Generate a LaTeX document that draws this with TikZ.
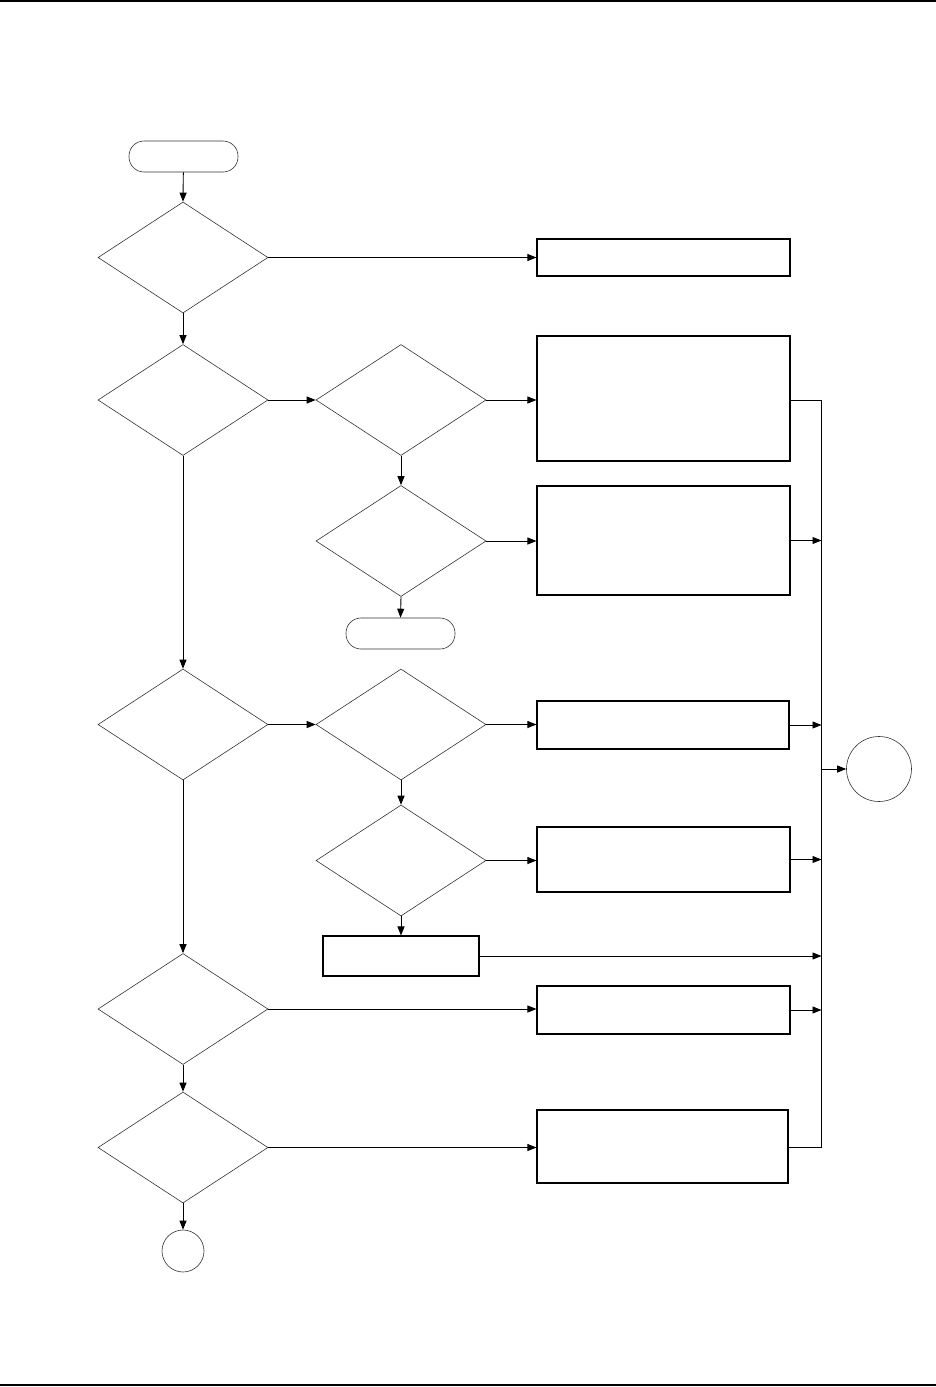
\documentclass[tikz,border=0pt]{standalone}
\usepackage{tikz}
\usetikzlibrary{shapes.geometric}
\usetikzlibrary{arrows.meta}
\tikzstyle{decide}=[diamond,draw=black!80,line width=0.6pt,minimum width=170pt,minimum height=111pt,inner sep=0pt]
\tikzstyle{stepbox}=[rectangle,draw=black,line width=1.1pt,inner sep=0pt]
\tikzstyle{termin}=[rectangle,rounded corners=15pt,draw=black!80,line width=0.6pt,minimum width=109pt,minimum height=31pt,inner sep=0pt]
\tikzstyle{connector}=[circle,draw=black!80,line width=0.6pt,inner sep=0pt]
\tikzstyle{flow}=[line width=0.9pt,-{Triangle[length=9pt,width=7pt]}]
\newcommand{\sBox}[5]{%
    \node [stepbox, minimum width=#4pt, minimum height=#5pt] (#1) at (#2,#3) {};
}

\begin{document}
\begin{tikzpicture}[x=1pt, y=-1pt]
    \useasboundingbox (0,0) rectangle (936,1387);

    %rules
    \draw [line width=1.4pt] (0,1) -- (936,1);
    \draw [line width=1.4pt] (0,1385) -- (936,1385);

    %left column
    \node [termin] (start) at (183.5,156.5) {};
    \node [decide] (d1) at (183,257.5) {};
    \node [decide] (d2) at (183,400) {};
    \node [decide] (d5) at (183,724.5) {};
    \node [decide] (d8) at (183,1009) {};
    \node [decide] (d9) at (183,1147.5) {};
    \node [connector, minimum size=42pt] (c1) at (183,1251) {};

    %middle column
    \node [decide] (d3) at (401,400) {};
    \node [decide] (d4) at (401,541) {};
    \node [termin] (stop) at (400.5,633.5) {};
    \node [decide] (d6) at (401,724.5) {};
    \node [decide] (d7) at (401,860.5) {};
    \sBox{b6}{401}{956}{156}{40}

    %right column
    \sBox{b1}{663.5}{257.5}{253}{37}
    \sBox{b2}{663.5}{398.5}{253}{125}
    \sBox{b3}{663.5}{540.5}{253}{109}
    \sBox{b4}{663}{725}{252}{48}
    \sBox{b5}{663.5}{859.5}{253}{65}
    \sBox{b7}{663.5}{1010}{253}{48}
    \sBox{b8}{662.5}{1146.5}{251}{73}

    \node [connector, minimum size=65pt] (c2) at (879,769) {};

    %bus
    \coordinate (busT) at (821.5,400);
    \coordinate (busB) at (821.5,1147);
    \coordinate (busC) at (821.5,769);

    %down
    \draw [flow] (start) -- (d1.north);
    \draw [flow] (d1.south) -- (d2.north);
    \draw [flow] (d2.south) -- (d5.north);
    \draw [flow] (d5.south) -- (d8.north);
    \draw [flow] (d8.south) -- (d9.north);
    \draw [flow] (d9.south) -- (c1.north);
    \draw [flow] (d3.south) -- (d4.north);
    \draw [flow] (d4.south) -- (stop.north);
    \draw [flow] (d6.south) -- (d7.north);
    \draw [flow] (d7.south) -- (b6.north);

    %across
    \draw [flow] (d1.east) -- (b1.west);
    \draw [flow] (d2.east) -- (d3.west);
    \draw [flow] (d3.east) -- (b2.west |- d3.east);
    \draw [flow] (d4.east) -- (b3.west |- d4.east);
    \draw [flow] (d5.east) -- (d6.west);
    \draw [flow] (d6.east) -- (b4.west |- d6.east);
    \draw [flow] (d7.east) -- (b5.west |- d7.east);
    \draw [flow] (d8.east) -- (b7.west |- d8.east);
    \draw [flow] (d9.east) -- (b8.west |- d9.east);

    %into bus
    \draw [line width=0.9pt] (b2.east |- busT) -- (busT) -- (busB) -- (b8.east |- busB);
    \draw [flow] (b3.east) -- (b3.east -| busT);
    \draw [flow] (b4.east) -- (b4.east -| busT);
    \draw [flow] (b5.east) -- (b5.east -| busT);
    \draw [flow] (b6.east) -- (b6.east -| busT);
    \draw [flow] (b7.east) -- (b7.east -| busT);
    \draw [flow] (busC) -- (c2.west);

\end{tikzpicture}
\end{document}
